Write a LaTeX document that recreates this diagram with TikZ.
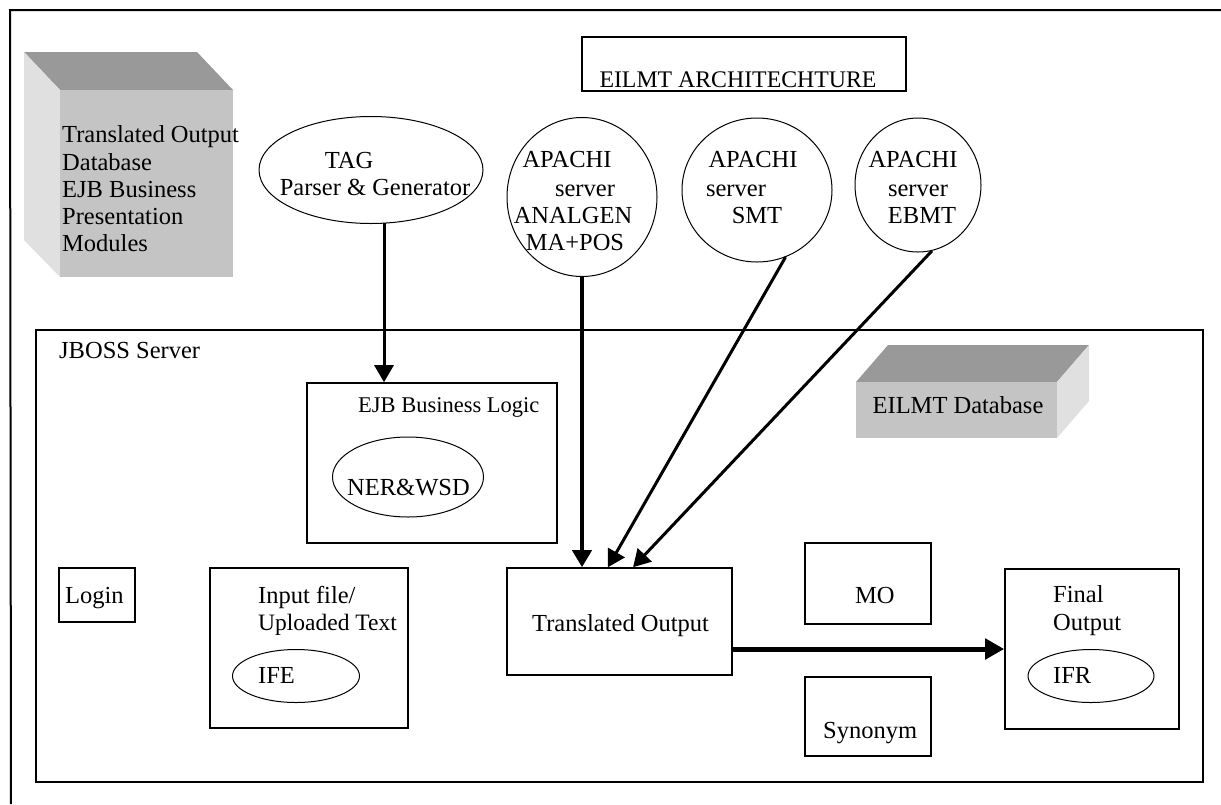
\documentclass[tikz,border=0pt]{standalone}
\usepackage{fontspec}
\setmainfont{Liberation Serif}
\usetikzlibrary{shapes.geometric,arrows.meta,calc}
\definecolor{topgray}{RGB}{153,153,153}
\definecolor{frontgray}{RGB}{196,196,196}
\definecolor{sidegray}{RGB}{224,224,224}
\begin{document}
\begin{tikzpicture}[x=1pt,y=-1pt,
  box/.style={draw,line width=1.6pt,rectangle,inner sep=0pt},
  oval/.style={draw,line width=1pt,ellipse,inner sep=0pt},
  tx/.style={font=\fontsize{24.5}{28}\selectfont,inner sep=0pt},
  arr/.style={-{Triangle[length=17pt,width=19pt]},line width=3pt},
  frame/.style={line width=2pt}]
\useasboundingbox (0,0) rectangle (1221,804);
% outer frame (top and left edges)
\coordinate (fa) at (10,10);
\coordinate (fb) at (1221,10);
\coordinate (fc) at (11,804);
\draw[frame] (fb) -- (fa) -- (fc);

% 3D block top left
\fill[topgray] (60,90) -- (233,90) -- (197,52) -- (24,52) -- cycle;
\fill[sidegray] (24,52) -- (60,90) -- (60,277) -- (24,240) -- cycle;
\node[fill=frontgray,inner sep=0pt,minimum width=173pt,minimum height=187pt] (cube) at (146.5,183.5) {};
\node[tx,anchor=base west] (c1) at (62,142) {Translated Output};
\node[tx,anchor=base west] (c2) at (62,170) {Database};
\node[tx,anchor=base west] (c3) at (62,197) {EJB Business};
\node[tx,anchor=base west] (c4) at (62,224) {Presentation};
\node[tx,anchor=base west] (c5) at (62,251) {Modules};

% title
\node[box,minimum width=324pt,minimum height=54pt] (title) at (744,64) {};
\node[tx,font=\fontsize{23.8}{28}\selectfont,anchor=base] (titletext) at (738,87) {EILMT ARCHITECHTURE};

% TAG ellipse
\node[oval,minimum width=224pt,minimum height=107pt] (tag) at (371,170) {};
\node[tx,anchor=base] (tag1) at (349,168) {TAG};
\node[tx,anchor=base] (tag2) at (375,195) {Parser \& Generator};

% APACHI circles
\node[oval,minimum width=150pt,minimum height=159pt] (ana) at (582,197) {};
\node[tx,anchor=base] (ana1) at (567,167) {APACHI};
\node[tx,anchor=base] (ana2) at (585,196) {server};
\node[tx,anchor=base] (ana3) at (573,223) {ANALGEN};
\node[tx,anchor=base] (ana4) at (575,250) {MA+POS};

\node[oval,minimum width=150pt,minimum height=144pt] (smt) at (757,190) {};
\node[tx,anchor=base] (smt1) at (753,167) {APACHI};
\node[tx,anchor=base] (smt2) at (736,196) {server};
\node[tx,anchor=base] (smt3) at (757,223) {SMT};

\node[oval,minimum width=126pt,minimum height=134pt] (ebmt) at (918,185) {};
\node[tx,anchor=base] (ebmt1) at (913,167) {APACHI};
\node[tx,anchor=base] (ebmt2) at (918,196) {server};
\node[tx,anchor=base] (ebmt3) at (922,223) {EBMT};

% JBOSS server
\node[box,minimum width=1167pt,minimum height=452pt] (jboss) at (619.5,556) {};
\node[tx,anchor=base west] (jbosstext) at (59,358) {JBOSS Server};

% EILMT Database block
\fill[topgray] (856,382) -- (1057,382) -- (1089,345) -- (888,345) -- cycle;
\fill[sidegray] (1057,382) -- (1089,345) -- (1089,401) -- (1057,438) -- cycle;
\node[fill=frontgray,inner sep=0pt,minimum width=201pt,minimum height=56pt] (db) at (956.5,410) {};
\node[tx,anchor=base] (dbtext) at (958,413) {EILMT Database};

% EJB Business Logic
\node[box,minimum width=250pt,minimum height=160pt] (ejb) at (432,463) {};
\node[tx,font=\fontsize{22.5}{27}\selectfont,anchor=base west] (ejbtext) at (358,412) {EJB Business Logic};
\node[oval,minimum width=151pt,minimum height=80pt] (ner) at (408,477) {};
\node[tx,anchor=base west] (nertext) at (347,495) {NER\&WSD};

% Login
\node[box,minimum width=76pt,minimum height=54pt] (login) at (97,595) {};
\node[tx,anchor=base west] (logintext) at (65,603) {Login};

% Input file
\node[box,minimum width=198pt,minimum height=160pt] (input) at (309,648) {};
\node[tx,anchor=base west] (in1) at (258,603) {Input file/};
\node[tx,font=\fontsize{23.5}{27}\selectfont,anchor=base west] (in2) at (258,630) {Uploaded Text};
\node[oval,minimum width=127pt,minimum height=53pt] (ife) at (296,676) {};
\node[tx,anchor=base west] (ifetext) at (258,683) {IFE};

% Translated Output
\node[box,minimum width=225pt,minimum height=107pt] (to) at (619.5,621.5) {};
\node[tx,anchor=base west] (totext) at (532,631) {Translated Output};

% MO and Synonym
\node[box,minimum width=126pt,minimum height=81pt] (mo) at (868,583.5) {};
\node[tx,anchor=base west] (motext) at (855,603) {MO};
\node[box,minimum width=126pt,minimum height=79pt] (syn) at (868,716.5) {};
\node[tx,anchor=base west] (syntext) at (823,738) {Synonym};

% Final Output
\node[box,minimum width=174pt,minimum height=160pt] (final) at (1092,649) {};
\node[tx,anchor=base west] (fin1) at (1053,602) {Final};
\node[tx,anchor=base west] (fin2) at (1053,630) {Output};
\node[oval,minimum width=126pt,minimum height=53pt] (ifr) at (1091,676) {};
\node[tx,anchor=base west] (ifrtext) at (1053,683) {IFR};

% connectors
\coordinate (tagout) at (384,223);
\draw[arr] (tagout) -- (tagout |- ejb.north);
\draw[arr,line width=4pt] (ana.south) -- (ana.south |- to.north);
\draw[arr] (smt.-67) -- ($(to.north west)!0.449!(to.north east)$);
\draw[arr] (ebmt.-78) -- ($(to.north west)!0.56!(to.north east)$);
\draw[arr,line width=5pt,-{Triangle[length=19pt,width=20pt]}] (to.east |- final.west) -- (final.west);
\end{tikzpicture}
\end{document}
